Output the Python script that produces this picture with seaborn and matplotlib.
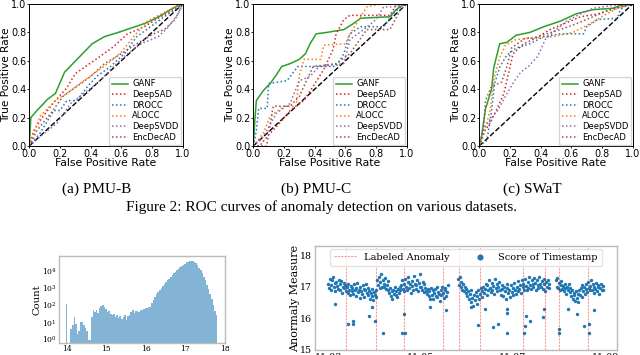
import numpy as np
import pandas as pd
import matplotlib
matplotlib.use("Agg")
import matplotlib.pyplot as plt
import seaborn as sns

# ---------------- ROC curves ----------------
methods = ["GANF", "DeepSAD", "DROCC", "ALOCC", "DeepSVDD", "EncDecAD"]
method_colors = ["#2ca02c", "#d62728", "#1f77b4", "#ff7f0e", "#9467bd", "#8c564b"]

pmub_ganf = ([0, .01, .05, .12, .17, .23, .32, .41, .49, .58, .69, .77, .86, .92, .97, 1],
             [0, .20, .25, .33, .37, .52, .62, .72, .77, .80, .84, .87, .92, .96, .99, 1])
pmub_deepsad = ([0, .03, .09, .17, .245, .30, .38, .46, .55, .64, .75, .84, .92, 1],
                [0, .11, .21, .32, .41, .51, .57, .63, .70, .79, .84, .90, .95, 1])
pmub_drocc = ([0, .07, .16, .20, .245, .31, .38, .44, .53, .62, .70, .79, .88, .95, 1],
              [0, .09, .25, .25, .32, .32, .42, .49, .56, .65, .77, .84, .91, .96, 1])
pmub_alocc = ([0, .07, .17, .245, .33, .42, .51, .60, .68, .77, .86, .95, 1],
              [0, .21, .32, .37, .44, .51, .58, .66, .77, .88, .93, .98, 1])
pmub_deepsvdd = ([0, .07, .18, .27, .38, .46, .55, .64, .73, .84, .90, .97, 1],
                 [0, .066, .16, .30, .39, .46, .56, .65, .72, .77, .83, .93, 1])
pmub_encdecad = ([0, .05, .14, .22, .31, .40, .49, .60, .70, .81, .88, .95, 1],
                 [0, .11, .23, .35, .42, .49, .58, .65, .72, .79, .82, .89, 1])

pmuc_ganf = ([0, .01, .02, .065, .11, .15, .185, .24, .30, .34, .37, .41, .48, .59, .65, .70, .89, .93, .97, 1],
             [0, .18, .32, .39, .44, .50, .56, .58, .61, .65, .72, .79, .80, .82, .86, .90, .91, .96, .99, 1])
pmuc_deepsad = ([0, .04, .11, .17, .24, .33, .39, .46, .52, .54, .59, .63, .89, .93, 1],
                [0, 0, .09, .16, .25, .32, .42, .54, .68, .79, .89, .92, .92, .99, 1])
pmuc_drocc = ([0, .02, .035, .09, .10, .22, .29, .54, .59, .63, .70, .85, .91, .97, 1],
              [0, .11, .265, .265, .44, .46, .56, .56, .65, .79, .84, .84, .93, .99, 1])
pmuc_alocc = ([0, .065, .11, .20, .28, .30, .33, .44, .46, .60, .63, .74, .83, 1],
              [0, .09, .21, .28, .28, .50, .61, .61, .71, .72, .79, .98, 1.0, 1])
pmuc_deepsvdd = ([0, .065, .15, .24, .30, .37, .43, .59, .63, .72, .80, .85, .93, 1],
                 [0, .066, .23, .30, .46, .49, .56, .58, .75, .82, .89, .98, .98, 1])
pmuc_encdecad = ([0, .087, .13, .24, .30, .39, .54, .63, .74, .89, .96, 1],
                 [0, 0, .28, .28, .35, .56, .58, .65, .82, .82, .96, 1])

swat_ganf = ([0, .015, .04, .08, .094, .133, .18, .24, .33, .42, .53, .59, .63, .74, .87, .92, 1],
             [0, .066, .26, .40, .55, .72, .73, .78, .80, .84, .88, .91, .93, .96, .97, .99, 1])
swat_deepsad = ([0, .026, .07, .11, .16, .19, .22, .29, .37, .46, .55, .66, .77, .92, 1],
                [0, .09, .16, .25, .37, .51, .65, .72, .76, .82, .86, .91, .93, .98, 1])
swat_drocc = ([0, .05, .08, .10, .135, .18, .24, .33, .42, .53, .68, .70, .77, .90, .92, .96, 1],
              [0, .04, .25, .44, .56, .64, .69, .72, .77, .79, .79, .84, .89, .90, .96, .99, 1])
swat_alocc = ([0, .026, .07, .10, .135, .17, .24, .35, .48, .61, .72, .83, .90, 1],
              [0, .066, .25, .49, .63, .71, .75, .76, .77, .80, .86, .93, .97, 1])
swat_deepsvdd = ([0, .02, .08, .12, .17, .23, .27, .32, .38, .43, .49, .57, .66, .74, .87, 1],
                 [0, .11, .20, .25, .35, .46, .52, .56, .63, .75, .81, .88, .93, .97, .99, 1])
swat_encdecad = ([0, .026, .04, .08, .145, .18, .21, .30, .35, .44, .53, .63, .74, .85, 1],
                 [0, .09, .32, .42, .45, .56, .69, .76, .76, .79, .82, .86, .91, .96, 1])

roc_panels = [
    ("(a) PMU-B", [pmub_ganf, pmub_deepsad, pmub_drocc, pmub_alocc, pmub_deepsvdd, pmub_encdecad]),
    ("(b) PMU-C", [pmuc_ganf, pmuc_deepsad, pmuc_drocc, pmuc_alocc, pmuc_deepsvdd, pmuc_encdecad]),
    ("(c) SWaT", [swat_ganf, swat_deepsad, swat_drocc, swat_alocc, swat_deepsvdd, swat_encdecad]),
]
roc_ticks = [0.0, 0.2, 0.4, 0.6, 0.8, 1.0]

# ---------------- histogram of anomaly measure (log counts) ----------------
hist_first_center = 14.0
hist_bin_width = 0.04
hist_counts = [
    110, 0, 0, 4, 7, 20, 8, 2, 3, 11,
    10, 7, 5, 3, 1, 1, 20, 55, 40, 50,
    35, 70, 85, 100, 80, 60, 40, 45, 30, 25,
    30, 20, 25, 18, 22, 15, 20, 25, 14, 22,
    28, 40, 50, 35, 45, 45, 40, 55, 50, 60,
    70, 65, 75, 80, 130, 200, 300, 420, 600, 800,
    1000, 1250, 1600, 2100, 2700, 3400, 4300, 5500, 7000, 8700,
    10500, 12500, 15500, 18500, 22000, 26000, 30000, 34000, 37000, 38000,
    36000, 32000, 26500, 21000, 15000, 10500, 7000, 4500, 2700, 1500,
    850, 450, 220, 100, 45, 25,
]
hist_xticks = [14, 15, 16, 17, 18]

# ---------------- anomaly measure time series ----------------
ts_origin = pd.Timestamp("2020-11-03")
# day offsets (from 11-03 00:00) where each recorded stretch starts / ends
seg1_span = (-0.005, 2.586)
seg2_span = (2.81, 4.79)
seg3_span = (4.93, 5.96)
seg1_vals = [
    17.10, 16.95, 17.25, 17.05, 16.90, 17.20, 17.30, 16.98, 17.12, 16.85,
    17.15, 17.02, 16.92, 17.22, 16.88, 17.08, 17.18, 16.80, 17.00, 17.12,
    16.95, 17.05, 16.86, 16.98, 16.80, 17.10, 16.90, 16.72, 17.02, 16.85,
    16.95, 16.78, 17.08, 16.88, 16.70, 16.96, 17.12, 16.82, 16.90, 16.65,
    17.00, 16.86, 16.76, 17.05, 16.92, 16.68, 16.88, 17.10, 16.80, 16.95,
    16.72, 16.85, 16.62, 16.80, 16.92, 16.70, 16.58, 16.82, 16.75, 16.66,
    16.90, 17.20, 17.05, 17.30, 16.95, 17.15, 17.40, 17.00, 17.22, 16.98,
    17.10, 17.28, 16.92, 17.05, 17.18, 16.88, 16.80, 16.95, 16.70, 16.86,
    16.62, 16.90, 16.78, 16.98, 16.72, 16.85, 16.66, 16.92, 16.80, 17.00,
    16.88, 17.05, 17.20, 16.92, 17.10, 16.85, 17.25, 17.00, 16.90, 17.15,
    17.30, 16.95, 17.08, 16.80, 17.18, 17.02, 16.88, 17.35, 17.10, 16.92,
    17.05, 17.22, 16.85, 17.12, 16.98, 17.40, 17.00, 16.90, 17.15, 16.82,
    17.08, 16.95, 16.86, 16.78, 16.92, 16.70, 16.85, 16.62, 16.95, 16.75,
    16.88, 16.60, 16.80, 16.92, 16.70, 16.98, 16.66, 16.84, 16.76, 16.55,
    16.90, 16.72, 17.00, 16.80, 16.64, 16.88, 16.95, 16.70, 16.82, 17.05,
]
seg2_vals = [
    17.25, 17.05, 17.30, 16.98, 17.15, 16.90, 17.08, 16.85, 17.00, 16.80,
    16.92, 16.70, 16.85, 16.60, 16.78, 16.50, 16.88, 16.65, 16.40, 16.75,
    16.58, 16.82, 16.45, 16.70, 16.90, 16.62, 16.78, 16.95, 16.68, 16.85,
    17.00, 16.80, 16.92, 17.10, 16.75, 17.05, 16.88, 17.20, 16.95, 16.82,
    17.12, 16.90, 17.02, 16.78, 17.25, 16.95, 17.08, 16.85, 16.98, 17.15,
    16.88, 16.75, 17.05, 16.92, 16.70, 17.00, 16.85, 16.62, 16.95, 17.10,
    16.80, 16.90, 16.68, 17.05, 16.82, 16.95, 16.72, 17.12, 16.88, 16.78,
    17.00, 16.85, 17.18, 16.92, 17.05, 16.80, 17.20, 16.98, 17.10, 16.90,
    17.25, 17.02, 16.88, 17.15, 16.95, 17.30, 17.05, 16.92, 17.22, 17.08,
    16.98, 17.28, 17.12, 16.90, 17.20, 17.05, 16.95, 17.32, 17.10, 17.00,
    17.18, 16.92, 17.25, 17.08, 16.85, 17.15, 17.00, 17.22, 16.95, 17.10,
]
seg3_vals = [
    17.20, 17.00, 17.28, 16.95, 17.12, 16.88, 17.05, 17.18, 16.92, 17.02,
    16.85, 17.10, 16.95, 16.78, 17.00, 16.90, 17.08, 16.82, 16.96, 16.70,
    16.88, 16.60, 16.80, 16.72, 16.55, 16.85, 16.65, 16.78, 16.50, 16.90,
    16.75, 16.95, 16.68, 17.05, 16.85, 16.98, 16.78, 17.10, 16.92, 16.82,
    17.15, 16.95, 17.02, 16.88, 17.20, 16.90, 17.08, 16.80, 17.00, 16.92,
    17.12, 16.85, 16.98, 17.05, 16.78, 16.95, 17.10, 16.88, 17.02, 16.90,
]
# isolated low-scoring timestamps
outlier_days = [0.43, 0.54, 0.54, 0.88, 1.01, 1.18, 1.59, 1.64, 1.66,
                3.25, 3.57, 3.68, 3.87, 3.87, 3.87, 4.23, 4.26, 4.28, 4.37, 4.65, 4.67,
                5.0, 5.0, 5.38, 5.53, 5.64, 5.64,
                0.15, 0.95, 2.2, 2.55, 3.1, 3.4, 5.2, 5.75]
outlier_vals = [15.81, 15.92, 15.80, 16.07, 15.91, 15.52, 15.52, 16.13, 15.52,
                15.79, 15.71, 15.81, 15.52, 16.15, 16.28, 15.52, 15.76, 16.07, 15.91, 16.02, 16.30,
                15.65, 15.52, 16.13, 15.76, 15.81, 15.52,
                16.45, 16.35, 16.35, 16.25, 16.35, 16.30, 16.30, 16.25]
anomaly_days = [0.373, 1.03, 1.644, 2.477, 2.837, 3.286, 4.226, 4.696, 5.0, 5.636]
ts_xticks = ["2020-11-03", "2020-11-05", "2020-11-07", "2020-11-09"]
ts_yticks = [15, 16, 17, 18]

SERIF = "DejaVu Serif"
CAPTION = "Liberation Serif"
plt.rcParams["mathtext.fontset"] = "dejavuserif"

W, H = 640, 355
fig = plt.figure(figsize=(6.4, 3.55), dpi=100)


def px_axes(left, top, right, bottom):
    return fig.add_axes([left / W, 1 - bottom / H, (right - left) / W, (bottom - top) / H])


# ---------- ROC panels ----------
roc_lefts = [29.3, 253.3, 479.3]
roc_w, roc_h = 153.4, 142
caption_x = [97, 316, 532]
dash_map = {m: ("" if m == "GANF" else (1, 1.6)) for m in methods}
for (title, curves), left, cx in zip(roc_panels, roc_lefts, caption_x):
    ax = px_axes(left, 4, left + roc_w, 4 + roc_h)
    frames = []
    for m, (fpr, tpr) in zip(methods, curves):
        frames.append(pd.DataFrame({"fpr": fpr, "tpr": tpr, "method": m}))
    df = pd.concat(frames, ignore_index=True)
    ax.plot([0, 1], [0, 1], color="black", ls="--", lw=1.0)
    sns.lineplot(data=df, x="fpr", y="tpr", hue="method", style="method",
                 hue_order=methods, style_order=methods,
                 palette=dict(zip(methods, method_colors)), dashes=dash_map,
                 estimator=None, sort=False, linewidth=1.1, ax=ax)
    sns.move_legend(ax, "lower right", title=None, fontsize=6, frameon=True,
                    borderaxespad=0.15, labelspacing=0.2, borderpad=0.35,
                    handlelength=1.9, handletextpad=0.55)
    ax.set_xlim(0, 1)
    ax.set_ylim(0, 1)
    ax.set_xticks(roc_ticks)
    ax.set_yticks(roc_ticks)
    ax.tick_params(labelsize=6.9, length=1.6, width=0.6, pad=0.4)
    ax.set_xlabel("False Positive Rate", fontsize=7.8)
    ax.set_ylabel("True Positive Rate", fontsize=7.6)
    ax.xaxis.set_label_coords(0.5, -11.5 / roc_h)
    ax.yaxis.set_label_coords(-18.5 / roc_w, 0.5)
    for s in ax.spines.values():
        s.set_linewidth(0.7)
    fig.text(cx / W, 1 - 193 / H, title, ha="center", va="baseline",
             family=CAPTION, fontsize=11)

fig.text(322 / W, 1 - 211 / H, "Figure 2: ROC curves of anomaly detection on various datasets.",
         ha="center", va="baseline", family=CAPTION, fontsize=11)

# ---------- histogram ----------
hist_left, hist_right = 59, 224.5
axh = px_axes(hist_left, 256, hist_right, 343)
hist_centers = hist_first_center + hist_bin_width * np.arange(len(hist_counts))
hist_df = pd.DataFrame({"measure": hist_centers, "count": hist_counts})
sns.histplot(data=hist_df, x="measure", weights="count", binwidth=hist_bin_width,
             binrange=(hist_centers[0] - hist_bin_width / 2, hist_centers[-1] + hist_bin_width / 2),
             color="#1f77b4", alpha=0.55, linewidth=0, ax=axh)
axh.set_yscale("log")
axh.set_xlim(13.81, 18.0)
axh.set_ylim(0.63, 71000)
axh.set_xticks(hist_xticks)
axh.minorticks_off()
axh.tick_params(length=0, labelsize=5.5, pad=1.5, labelfontfamily=SERIF)
axh.set_ylabel("Count", family=SERIF, fontsize=7.2)
axh.yaxis.set_label_coords(-17 / (hist_right - hist_left), 0.5)
axh.set_xlabel("Anormaly Measure (Log-likelihood of Timestamp)", family=SERIF, fontsize=7.2, labelpad=1)
for s in axh.spines.values():
    s.set_color("#bbbbbb")
    s.set_linewidth(1.0)

# ---------- time series ----------
ts_left, ts_right = 315, 616.7
axs = px_axes(ts_left, 246, ts_right, 350)
frames = []
for span, vals in [(seg1_span, seg1_vals), (seg2_span, seg2_vals), (seg3_span, seg3_vals)]:
    t = pd.date_range(ts_origin + pd.Timedelta(days=span[0]),
                      ts_origin + pd.Timedelta(days=span[1]), periods=len(vals))
    frames.append(pd.DataFrame({"time": t, "score": vals}))
frames.append(pd.DataFrame({"time": ts_origin + pd.to_timedelta(outlier_days, unit="D"),
                            "score": outlier_vals}))
ts = pd.concat(frames, ignore_index=True)

for i, d in enumerate(anomaly_days):
    axs.axvline(ts_origin + pd.Timedelta(days=d), color="red", alpha=0.4, lw=0.8,
                ls=(0, (2, 1)), label="Labeled Anomaly" if i == 0 else None)
sns.scatterplot(data=ts, x="time", y="score", s=6, color="#1f77b4", linewidth=0,
                label="Score of Timestamp", ax=axs)
axs.set_xlim(ts_origin - pd.Timedelta(days=0.293), ts_origin + pd.Timedelta(days=6.25))
axs.set_ylim(14.98, 18.3)
axs.set_xticks(pd.to_datetime(ts_xticks))
axs.set_xticklabels([pd.Timestamp(t).strftime("%m-%d") for t in ts_xticks])
axs.set_yticks(ts_yticks)
axs.tick_params(length=0, labelsize=6.8, pad=2, labelfontfamily=SERIF)
axs.set_xlabel("")
axs.set_ylabel("Anormaly Measure", family=SERIF, fontsize=8)
axs.yaxis.set_label_coords(-14.5 / (ts_right - ts_left), 0.5)
axs.legend(loc="upper center", ncol=2, prop={"family": SERIF, "size": 7},
           handlelength=2.4, handletextpad=0.7, columnspacing=1.9, markerscale=1.8,
           borderaxespad=0.3, edgecolor="#dddddd")
for s in axs.spines.values():
    s.set_color("#bbbbbb")
    s.set_linewidth(1.0)

fig.savefig("out.png", dpi=100)
